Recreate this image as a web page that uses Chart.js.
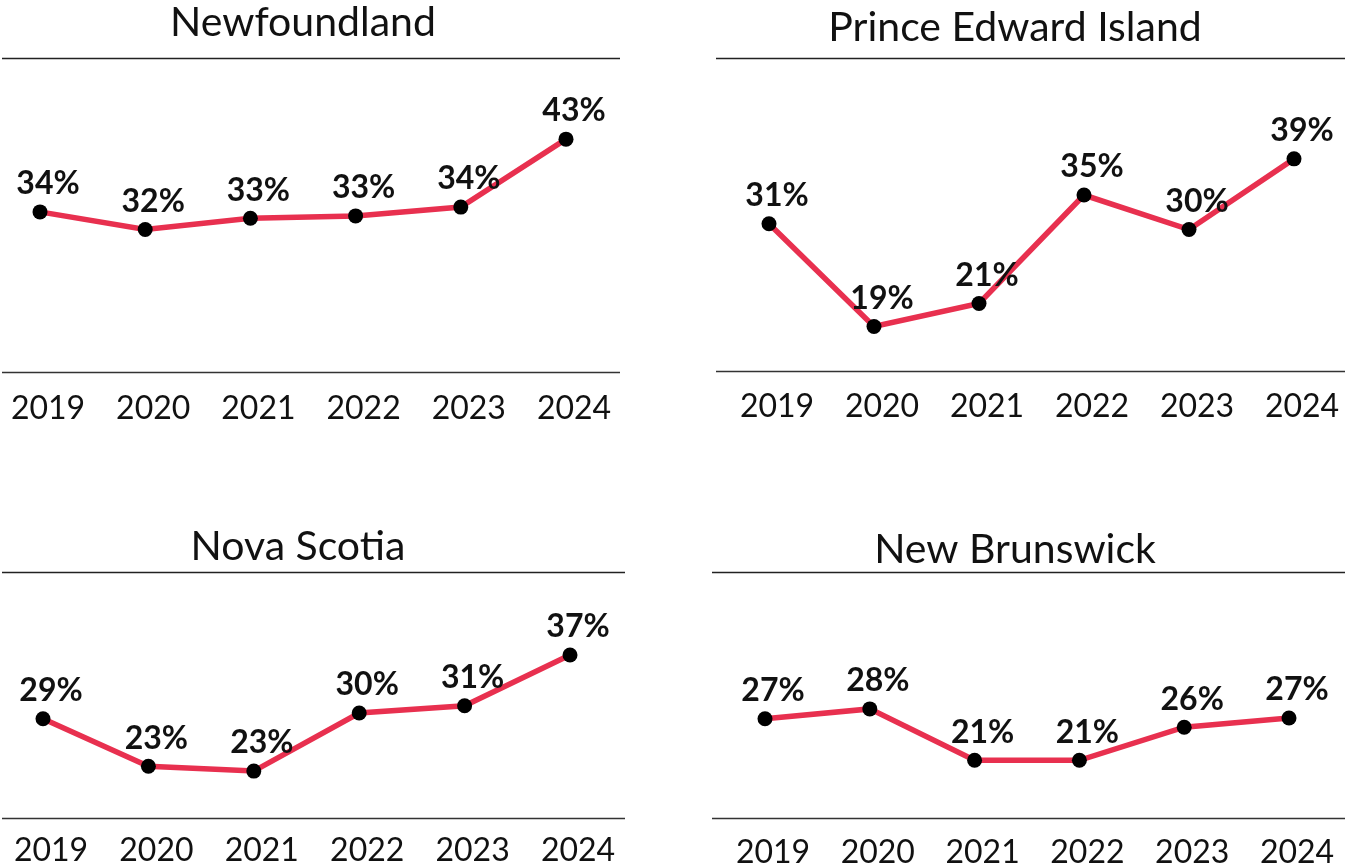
<!DOCTYPE html>
<html>
<head>
<meta charset="utf-8">
<script src="https://cdn.jsdelivr.net/npm/chart.js@4.4.0/dist/chart.umd.min.js"></script>
<style>
  html, body { margin:0; padding:0; background:#fff; width:1345px; height:867px; overflow:hidden; }
  canvas { position:absolute; }
</style>
</head>
<body>
<canvas id="c1"></canvas>
<canvas id="c2"></canvas>
<canvas id="c3"></canvas>
<canvas id="c4"></canvas>
<script>
// ---- DATA ----
const years = ['2019', '2020', '2021', '2022', '2023', '2024'];
const titles = ['Newfoundland', 'Prince Edward Island', 'Nova Scotia', 'New Brunswick'];
const newfoundland = [33.8, 31.6, 33.0, 33.3, 34.4, 42.9];
const princeEdwardIsland = [31.1, 18.6, 21.4, 34.6, 30.4, 39.0];
const novaScotia = [29.2, 23.3, 22.7, 29.9, 30.8, 37.1];
const newBrunswick = [26.9, 28.3, 21.0, 21.0, 25.7, 27.0];

const FONT = 'Lato, "Open Sans", sans-serif';
const LINE_COLOR = '#e8304f';

const panelPlugin = {
  id: 'panel',
  beforeDatasetsDraw(chart, args, opts) {
    const ctx = chart.ctx, a = chart.chartArea;
    ctx.save();
    ctx.strokeStyle = '#222';
    ctx.lineWidth = 1.3;
    ctx.beginPath();
    ctx.moveTo(opts.x0, Math.round(a.top) + 0.5);
    ctx.lineTo(opts.x1, Math.round(a.top) + 0.5);
    ctx.stroke();
    ctx.strokeStyle = '#333';
    ctx.lineWidth = 1.6;
    ctx.beginPath();
    ctx.moveTo(opts.x0, Math.round(a.bottom) + 0.5);
    ctx.lineTo(opts.x1, Math.round(a.bottom) + 0.5);
    ctx.stroke();
    // title
    ctx.fillStyle = '#111';
    ctx.font = '41px ' + FONT;
    ctx.textAlign = 'center';
    ctx.textBaseline = 'middle';
    ctx.fillText(opts.title, opts.tx, opts.ty);
    ctx.restore();
  },
  afterDatasetsDraw(chart, args, opts) {
    const ctx = chart.ctx;
    const meta = chart.getDatasetMeta(0);
    const data = chart.data.datasets[0].data;
    ctx.save();
    ctx.fillStyle = '#111';
    ctx.font = 'bold 32px ' + FONT;
    ctx.textAlign = 'center';
    ctx.textBaseline = 'middle';
    meta.data.forEach((pt, i) => {
      ctx.fillText(Math.round(data[i]) + '%', pt.x + 8, pt.y - 28);
    });
    ctx.restore();
  }
};

function makeChart(id, pos, values, title, cfg) {
  const cv = document.getElementById(id);
  cv.width = pos.w; cv.height = pos.h;
  cv.style.left = pos.left + 'px'; cv.style.top = pos.top + 'px';
  cv.style.width = pos.w + 'px'; cv.style.height = pos.h + 'px';
  return new Chart(cv, {
    type: 'line',
    data: {
      labels: years,
      datasets: [{
        data: values,
        borderColor: LINE_COLOR,
        borderWidth: 5.5,
        pointRadius: 7.5,
        pointBackgroundColor: '#000',
        pointBorderColor: '#000',
        pointBorderWidth: 0,
        tension: 0,
        clip: false
      }]
    },
    options: {
      responsive: false,
      animation: false,
      devicePixelRatio: 1,
      layout: { padding: { left: cfg.pl, right: cfg.pr, top: cfg.pt, bottom: 0 } },
      plugins: {
        legend: { display: false },
        tooltip: { enabled: false },
        title: { display: false },
        panel: { title: title, tx: cfg.tx, ty: cfg.ty, x0: cfg.x0, x1: cfg.x1 }
      },
      scales: {
        x: {
          offset: false,
          grid: { display: false, drawTicks: false },
          border: { display: false },
          ticks: { font: { family: FONT, size: 32 }, color: '#111', padding: cfg.tp, labelOffset: 8, maxRotation: 0, autoSkip: false },
          afterFit(s) { s.height = 50; s.paddingLeft = 0; s.paddingRight = 0; }
        },
        y: { display: false, min: cfg.min, max: cfg.max }
      }
    },
    plugins: [panelPlugin]
  });
}

makeChart('c1', { left: 0, top: 0, w: 672, h: 422 }, newfoundland, titles[0],
  { pl: 40, pr: 106, pt: 58, tp: 17, min: 13.76, max: 53.06, tx: 303, ty: 23, x0: 2, x1: 620 });
makeChart('c2', { left: 672, top: 0, w: 673, h: 421 }, princeEdwardIsland, titles[1],
  { pl: 97, pr: 51, pt: 58, tp: 16, min: 13.19, max: 51.27, tx: 343, ty: 28, x0: 44, x1: 673 });
makeChart('c3', { left: 0, top: 470, w: 672, h: 398 }, novaScotia, titles[2],
  { pl: 43, pr: 102, pt: 102, tp: 13, min: 16.88, max: 47.4, tx: 298, ty: 77, x0: 2, x1: 625 });
makeChart('c4', { left: 672, top: 470, w: 673, h: 398 }, newBrunswick, titles[3],
  { pl: 93, pr: 56, pt: 102, tp: 15, min: 12.8, max: 47.75, tx: 343, ty: 80, x0: 40, x1: 673 });
</script>
</body>
</html>
